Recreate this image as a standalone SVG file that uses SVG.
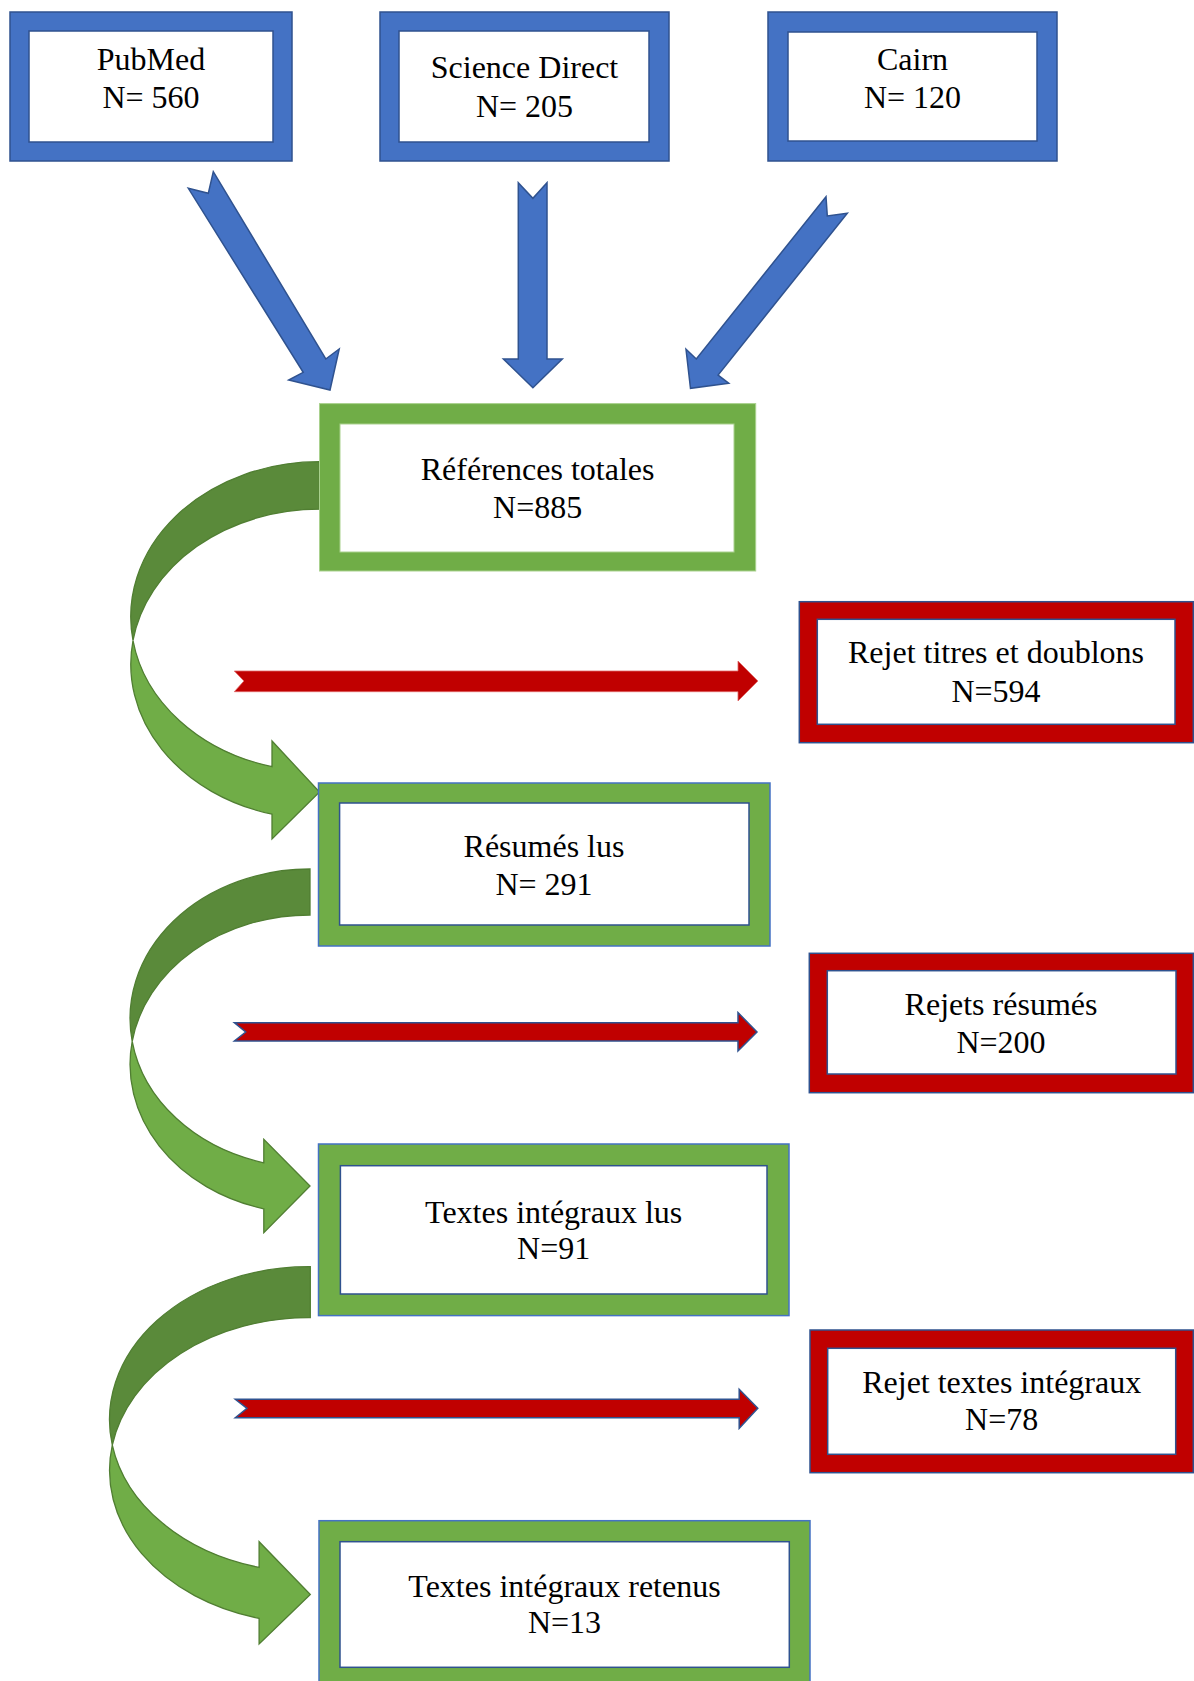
<svg xmlns="http://www.w3.org/2000/svg" width="1194" height="1681" viewBox="0 0 1194 1681">
<style>
.t{font-family:"Liberation Serif","Times New Roman",serif;font-size:32px;fill:#000;text-anchor:middle}
.bo{fill:#4472C4;stroke:#2F528F;stroke-width:1.5}
.go{fill:#70AD47;stroke:#4472C4;stroke-width:1.5}
.go0{fill:#70AD47;stroke:#A9D18E;stroke-width:1}
.ro{fill:#C00000;stroke:#2F528F;stroke-width:1.5}
.in{fill:#fff;stroke:#2F528F;stroke-width:1.5}
.in0{fill:#fff;stroke:#A9D18E;stroke-width:1}
.ba{fill:#4472C4;stroke:#2F528F;stroke-width:1.5;stroke-linejoin:miter}
.ra{fill:#C00000;stroke:#2F528F;stroke-width:1.5}
.ra0{fill:#C00000;stroke:#E06666;stroke-width:0.8}
.gd{fill:#5A8A3A;stroke:#507E32;stroke-width:1.3}
.gl{fill:#70AD47;stroke:#507E32;stroke-width:1.3}
</style>
<rect width="1194" height="1681" fill="#fff"/>
<g id="connectors">
  <polygon class="ba" points="188.3,188.3 208.3,193.3 213.3,171.7 325.8,359 339.2,349 330,390 288.7,380 303.2,372.3"/>
  <polygon class="ba" points="518.3,182.7 532.9,198.3 547,182.7 547,359 562.3,359 532.9,387.7 503.4,359 518.3,359"/>
  <polygon class="ba" points="826,196.7 827.3,216 847.3,213.3 718.1,375 728.8,383.3 690.5,388.3 686,349.3 696.3,359"/>
  <path class="gd" d="M319.5 461.7 A188.7 155 0 0 0 133 640.5 A188.7 155 0 0 1 319.5 509.2 Z"/>
  <path class="gl" d="M133 640.5 A188.7 155 0 0 0 272 814.2 L272 839 L319.5 792 L272 741 L272 766.7 A188.7 155 0 0 1 133 640.5 Z"/>
  <path class="gd" d="M310 869 A180 149.4 0 0 0 132.2 1041.4 A180 149.4 0 0 1 310 915 Z"/>
  <path class="gl" d="M132.2 1041.4 A180 149.4 0 0 0 263.8 1208.8 L263.8 1232.7 L310 1186 L263.8 1139.3 L263.8 1162.8 A180 149.4 0 0 1 132.2 1041.4 Z"/>
  <path class="gd" d="M310.3 1266.7 A199.5 152.9 0 0 0 112.3 1445.1 A199.5 152.9 0 0 1 310.3 1317.7 Z"/>
  <path class="gl" d="M112.3 1445.1 A199.5 152.9 0 0 0 259.1 1618.4 L259.1 1644 L310.3 1594.5 L259.1 1541.7 L259.1 1567.4 A199.5 152.9 0 0 1 112.3 1445.1 Z"/>
  <polygon class="ra0" points="234.3,671 738,671 738,661 757.9,681 738,701 738,691.7 234.3,691.7 243.9,681"/>
  <polygon class="ra" points="234.4,1022.7 738,1022.7 738,1012.6 757,1032 738,1051 738,1041 234.4,1041 245.7,1032"/>
  <polygon class="ra" points="235.3,1399.3 739.2,1399.3 739.2,1389.3 757.8,1408.3 739.2,1428.3 739.2,1417.7 235.3,1417.7 247,1408.3"/>
</g>
<g id="pubmed">
  <rect class="bo" x="10" y="12" width="282" height="149"/>
  <rect class="in" x="29" y="31" width="244" height="111"/>
  <text class="t" x="151" y="70">PubMed</text>
  <text class="t" x="151" y="108">N= 560</text>
</g>
<g id="sciencedirect">
  <rect class="bo" x="380" y="12" width="289" height="149"/>
  <rect class="in" x="399" y="31" width="250" height="111"/>
  <text class="t" x="524.5" y="78.3">Science Direct</text>
  <text class="t" x="524.5" y="116.7">N= 205</text>
</g>
<g id="cairn">
  <rect class="bo" x="768" y="12" width="289" height="149"/>
  <rect class="in" x="788" y="32" width="249" height="109"/>
  <text class="t" x="912.5" y="70">Cairn</text>
  <text class="t" x="912.5" y="108">N= 120</text>
</g>
<g id="references">
  <rect class="go0" x="319.5" y="403.6" width="436.2" height="167.4"/>
  <rect class="in0" x="340" y="424" width="394" height="128"/>
  <text class="t" x="537.6" y="480">Références totales</text>
  <text class="t" x="537.6" y="517.7">N=885</text>
</g>
<g id="rejet1">
  <rect class="ro" x="799.3" y="601.7" width="394" height="141"/>
  <rect class="in" x="817.3" y="619.3" width="357.7" height="105"/>
  <text class="t" x="996" y="663.3">Rejet titres et doublons</text>
  <text class="t" x="996" y="701.7">N=594</text>
</g>
<g id="resumes">
  <rect class="go" x="318.5" y="783" width="451.5" height="163"/>
  <rect class="in" x="339.6" y="803" width="409.4" height="122"/>
  <text class="t" x="544" y="856.7">Résumés lus</text>
  <text class="t" x="544" y="895">N= 291</text>
</g>
<g id="rejet2">
  <rect class="ro" x="809.3" y="953.3" width="384" height="139.4"/>
  <rect class="in" x="827.3" y="970.7" width="348.7" height="103.3"/>
  <text class="t" x="1001" y="1015">Rejets résumés</text>
  <text class="t" x="1001" y="1052.7">N=200</text>
</g>
<g id="textes-lus">
  <rect class="go" x="318.5" y="1144" width="470.5" height="171.6"/>
  <rect class="in" x="340.4" y="1165.7" width="426.6" height="128.3"/>
  <text class="t" x="553.7" y="1222.7">Textes intégraux lus</text>
  <text class="t" x="553.7" y="1259.3">N=91</text>
</g>
<g id="rejet3">
  <rect class="ro" x="810" y="1330" width="383.3" height="142.7"/>
  <rect class="in" x="827.7" y="1348.3" width="348" height="106"/>
  <text class="t" x="1001.7" y="1393.3">Rejet textes intégraux</text>
  <text class="t" x="1001.7" y="1430">N=78</text>
</g>
<g id="retenus">
  <rect class="go" x="319" y="1520.7" width="491" height="170"/>
  <rect class="in" x="340" y="1541.7" width="449.3" height="125.6"/>
  <text class="t" x="564.5" y="1596.7">Textes intégraux retenus</text>
  <text class="t" x="564.5" y="1633">N=13</text>
</g>
</svg>
